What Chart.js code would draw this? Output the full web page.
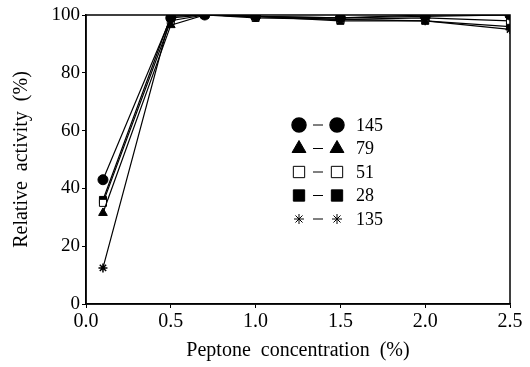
<!DOCTYPE html>
<html lang="en">
	<head>
		<meta charset="utf-8"/>
		<title>Peptone concentration</title>
		<script src="https://cdn.jsdelivr.net/npm/chart.js@4.4.0/dist/chart.umd.min.js"></script>
		<style>
			body {
				margin: 0;
				background-color: white;
			}
			.container {
				width: 530px;
				height: 367px;
			}
		</style>
	</head>

	<body>
		<div class="container">
			<canvas id="myChart" width="530" height="367"></canvas>
		</div>

		<script>
			// peptone concentration (%)
			const conc = [0.1, 0.5, 0.7, 1.0, 1.5, 2.0, 2.5];
			const xTicks = [0.0, 0.5, 1.0, 1.5, 2.0, 2.5];
			const yTicks = [0, 20, 40, 60, 80, 100];

			const seriesNames = ['145', '79', '51', '28', '135'];
			const act145 = [43, 99, 100, 99.5, 99, 99.5, 100];
			const act79 = [31.5, 96.5, 100, 99.5, 99, 100, 100];
			const act51 = [35, 98, 100, 99, 98.5, 99, 98];
			const act28 = [36, 99.5, 100, 99.5, 98, 98, 96];
			const act135 = [12.5, 100, 100, 99.5, 98.5, 98, 95];

			const font = "'Liberation Serif', 'DejaVu Serif', serif";

			function pts(vals) {
				return vals.map((v, i) => ({x: conc[i], y: v}));
			}

			function mkSet(label, vals, style, filled) {
				return {
					label: label,
					data: pts(vals),
					borderColor: '#000',
					borderWidth: 1.2,
					pointStyle: style,
					pointRadius: style == 'star' ? 4.5 : 5,
					pointBorderWidth: style == 'star' ? 1.5 : 1,
					pointBorderColor: '#000',
					pointBackgroundColor: filled ? '#000' : '#fff',
					tension: 0
				};
			}

			const sets = [
				mkSet(seriesNames[0], act145, 'circle', true),
				mkSet(seriesNames[1], act79, 'triangle', true),
				mkSet(seriesNames[2], act51, 'rect', false),
				mkSet(seriesNames[3], act28, 'rect', true),
				mkSet(seriesNames[4], act135, 'star', true)
			];

			// frame + marker legend inside the plot
			const framePlugin = {
				id: 'frame',
				afterDatasetsDraw(chart) {
					const a = chart.chartArea;
					const ctx = chart.ctx;
					ctx.save();
					ctx.strokeStyle = '#000';
					ctx.lineWidth = 1.5;
					ctx.strokeRect(a.left, a.top, a.right - a.left, a.bottom - a.top);

					let y = 125;
					chart.data.datasets.forEach((ds) => {
						let r = 8;
						if (ds.pointStyle == 'star') r = 5;
						if (ds.pointStyle == 'circle') r = 7;
						const opts = {
							pointStyle: ds.pointStyle,
							radius: r,
							borderWidth: ds.pointBorderWidth,
							rotation: 0
						};
						ctx.fillStyle = ds.pointBackgroundColor;
						ctx.strokeStyle = '#000';
						Chart.helpers.drawPoint(ctx, opts, 299, y);
						ctx.fillStyle = ds.pointBackgroundColor;
						ctx.strokeStyle = '#000';
						Chart.helpers.drawPoint(ctx, opts, 337, y);
						ctx.lineWidth = 1;
						ctx.beginPath();
						ctx.moveTo(313, y);
						ctx.lineTo(323, y);
						ctx.stroke();
						ctx.fillStyle = '#000';
						ctx.font = '18px ' + font;
						ctx.textBaseline = 'middle';
						ctx.fillText(ds.label, 356, y + 1);
						y += 23.5;
					});
					ctx.restore();
				}
			};

			let ch1 = document.getElementById('myChart').getContext('2d');
			let chart1 = new Chart(ch1, {
				type: 'line',
				data: { datasets: sets },
				plugins: [framePlugin],
				options: {
					responsive: false,
					animation: false,
					layout: { padding: { top: 15, right: 20, left: 0, bottom: 0 } },
					plugins: {
						legend: { display: false },
						tooltip: { enabled: false }
					},
					scales: {
						x: {
							type: 'linear',
							min: 0,
							max: 2.5,
							afterBuildTicks: (s) => { s.ticks = xTicks.map(v => ({value: v})); },
							afterFit: (s) => { s.height = 63; },
							ticks: {
								color: '#000',
								font: { family: font, size: 20 },
								padding: 2,
								maxRotation: 0,
								callback: (v) => v.toFixed(1)
							},
							grid: { display: true, drawOnChartArea: false, drawTicks: true, tickLength: 4, color: '#000' },
							border: { color: '#000', width: 1.5 },
							title: {
								display: true,
								text: 'Peptone  concentration  (%)',
								color: '#000',
								font: { family: font, size: 20 },
								padding: { top: 6, bottom: 4 }
							}
						},
						y: {
							min: 0,
							max: 100,
							afterBuildTicks: (s) => { s.ticks = yTicks.map(v => ({value: v})); },
							afterFit: (s) => { s.width = 86; },
							ticks: {
								color: '#000',
								font: { family: font, size: 19 },
								padding: 2
							},
							grid: { display: true, drawOnChartArea: false, drawTicks: true, tickLength: 4, color: '#000' },
							border: { color: '#000', width: 1.5 },
							title: {
								display: true,
								text: 'Relative  activity  (%)',
								color: '#000',
								font: { family: font, size: 20 },
								padding: { top: 10, bottom: 4 }
							}
						}
					}
				}
			});
		</script>
	</body>
</html>
